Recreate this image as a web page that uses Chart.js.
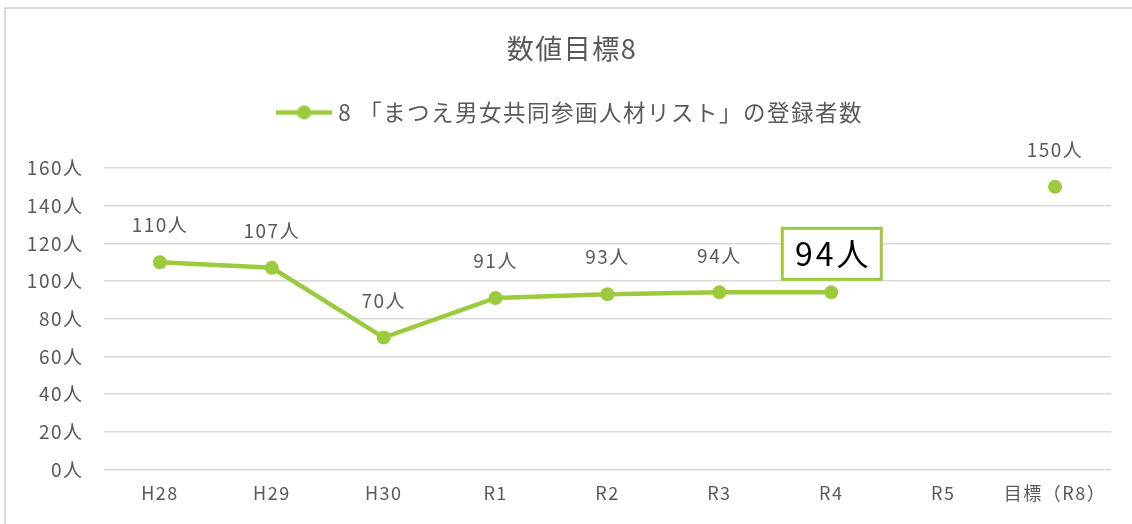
<!DOCTYPE html>
<html>
<head>
<meta charset="utf-8">
<script src="https://cdn.jsdelivr.net/npm/chart.js@4"></script>
<style>
  body { margin: 0; background: #fff; }
  #wrap { position: relative; width: 1132px; height: 524px; }
  #frame {
    position: absolute; left: 4px; top: 7px; width: 1200px; height: 600px;
    border-left: 2px solid #d9d9d9; border-top: 2px solid #d9d9d9;
  }
  #chart { position: absolute; left: 0; top: 0; }
</style>
</head>
<body>
<div id="wrap">
  <div id="frame"></div>
  <canvas id="chart" width="1132" height="524"></canvas>
</div>
<script>
const labels = ['H28', 'H29', 'H30', 'R1', 'R2', 'R3', 'R4', 'R5', '目標（R8）'];
const registered = [110, 107, 70, 91, 93, 94, 94, null, null];
const target = [null, null, null, null, null, null, null, null, 150];
const yTicks = [0, 20, 40, 60, 80, 100, 120, 140, 160];
const seriesName = '8 「まつえ男女共同参画人材リスト」の登録者数';
const highlightIndex = 6;

const GREEN = '#9BCB3C';
const GREY = '#595959';
const FONT = "'Noto Sans CJK JP', 'Noto Sans', sans-serif";
const SPACING = '1.5px';

// legend marker: line with a dot, like the spreadsheet legend
function makeLegendMarker() {
  const c = document.createElement('canvas');
  c.width = 56;
  c.height = 16;
  const ctx = c.getContext('2d');
  ctx.strokeStyle = GREEN;
  ctx.lineWidth = 4.5;
  ctx.beginPath();
  ctx.moveTo(0, 8);
  ctx.lineTo(56, 8);
  ctx.stroke();
  ctx.fillStyle = GREEN;
  ctx.beginPath();
  ctx.arc(28, 8, 7, 0, Math.PI * 2);
  ctx.fill();
  return c;
}
const legendMarker = makeLegendMarker();

// the source font is set wide, so space the letters a bit
const letterSpacing = {
  id: 'letterSpacing',
  beforeUpdate(chart) {
    chart.ctx.letterSpacing = SPACING;
  },
  beforeDraw(chart) {
    chart.ctx.letterSpacing = SPACING;
  },
};

// y labels drawn by hand so they can hang into the left padding
// (the built-in ones get clipped to the axis box)
const yLabels = {
  id: 'yLabels',
  afterDraw(chart) {
    const ctx = chart.ctx;
    const y = chart.scales.y;
    ctx.save();
    ctx.letterSpacing = SPACING;
    ctx.fillStyle = GREY;
    ctx.font = '19px ' + FONT;
    ctx.textAlign = 'right';
    ctx.textBaseline = 'middle';
    yTicks.forEach((v) => {
      ctx.fillText(v + '人', 83.5, y.getPixelForValue(v));
    });
    ctx.restore();
  },
};

const valueLabels = {
  id: 'valueLabels',
  afterDatasetsDraw(chart) {
    const ctx = chart.ctx;
    chart.data.datasets.forEach((ds, di) => {
      const meta = chart.getDatasetMeta(di);
      meta.data.forEach((pt, i) => {
        const v = ds.data[i];
        if (v === null || v === undefined) return;
        ctx.save();
        ctx.textAlign = 'center';
        ctx.textBaseline = 'middle';
        if (di === 0 && i === highlightIndex) {
          const cy = pt.y - 39;
          ctx.strokeStyle = GREEN;
          ctx.lineWidth = 3;
          ctx.fillStyle = '#fff';
          ctx.fillRect(pt.x - 49, cy - 25, 99, 51);
          ctx.strokeRect(pt.x - 49, cy - 25, 99, 51);
          ctx.fillStyle = '#000';
          ctx.letterSpacing = '3px';
          ctx.font = '32px ' + FONT;
          ctx.fillText(v + '人', pt.x + 2, cy + 1);
        } else {
          ctx.fillStyle = GREY;
          ctx.font = '19px ' + FONT;
          ctx.fillText(v + '人', pt.x, pt.y - 37);
        }
        ctx.restore();
      });
    });
  },
};

new Chart(document.getElementById('chart'), {
  type: 'line',
  data: {
    labels: labels,
    datasets: [
      {
        label: seriesName,
        data: registered,
        borderColor: GREEN,
        backgroundColor: GREEN,
        borderWidth: 4.5,
        pointRadius: 7,
        pointHoverRadius: 7,
        pointBorderWidth: 0,
        tension: 0,
        spanGaps: false,
      },
      {
        label: '目標',
        data: target,
        showLine: false,
        borderColor: GREEN,
        backgroundColor: GREEN,
        pointRadius: 7,
        pointBorderWidth: 0,
      },
    ],
  },
  options: {
    responsive: false,
    animation: false,
    layout: {
      padding: { top: 0, left: 33, right: 21, bottom: 7 },
    },
    plugins: {
      title: {
        display: true,
        text: '数値目標8',
        color: GREY,
        font: { family: FONT, size: 27, weight: 'normal', lineHeight: 1.2 },
        padding: { top: 33, bottom: -9.15 },
      },
      // empty subtitle used as a spacer between legend and plot
      subtitle: {
        display: true,
        text: ' ',
        weight: 500,
        font: { size: 10, lineHeight: 1.2 },
        padding: { top: 0, bottom: 22.25 },
      },
      legend: {
        display: true,
        labels: {
          color: GREY,
          font: { family: FONT, size: 22.5 },
          usePointStyle: true,
          pointStyleWidth: 46,
          boxHeight: 14,
          padding: 45,
          generateLabels: (chart) => [{
            text: seriesName,
            fontColor: GREY,
            pointStyle: legendMarker,
            datasetIndex: 0,
            lineWidth: 0,
            strokeStyle: GREEN,
            fillStyle: GREEN,
            hidden: false,
          }],
        },
      },
      tooltip: { enabled: false },
    },
    scales: {
      x: {
        offset: true,
        grid: { display: false, drawTicks: false },
        border: { display: false },
        ticks: {
          color: GREY,
          font: { family: FONT, size: 18 },
          padding: 13,
          maxRotation: 0,
          autoSkip: false,
        },
      },
      y: {
        min: 0,
        max: 160,
        afterBuildTicks: (scale) => {
          scale.ticks = yTicks.map((v) => ({ value: v }));
        },
        afterFit: (scale) => {
          scale.width = 71;
        },
        grid: { color: '#d9d9d9', lineWidth: 1.5, drawTicks: false },
        border: { display: false },
        ticks: { display: false },
      },
    },
  },
  plugins: [letterSpacing, yLabels, valueLabels],
});
</script>
</body>
</html>
